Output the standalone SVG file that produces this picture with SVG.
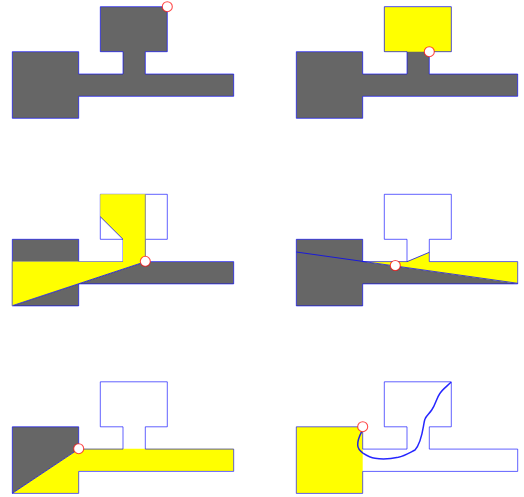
<svg xmlns="http://www.w3.org/2000/svg" width="524" height="497" viewBox="0 0 524 497">
<style>
.o{fill:none;stroke:#00f;stroke-width:1;stroke-opacity:.62}
.g{fill:#666;stroke:none}
.y{fill:#ff0;stroke:none}
.l{fill:none;stroke:#00f;stroke-width:1;stroke-opacity:.75}
.k{fill:none;stroke:#00f;stroke-width:1.5;stroke-opacity:.85}
.c{fill:#fff;stroke:#f00;stroke-width:1.1;stroke-opacity:.7}
</style>
<defs>
<path id="s" d="M12.3 51.7H78.7V74H123V51.7H100.3V6.7H167.3V51.7H145.3V74H233.7V96.3H78.7V118.3H12.3Z"/>
</defs>
<rect width="524" height="497" fill="#fff"/>
<g id="panel-1">
<use href="#s" class="g"/><use href="#s" class="o"/>
<circle class="c" cx="167.3" cy="6.7" r="5"/>
</g>
<g id="panel-2">
<use href="#s" class="g" x="284"/>
<path class="y" d="M384.3 7H451.3V51.7H384.3Z"/>
<use href="#s" class="o" x="284"/>
<circle class="c" cx="429.3" cy="51.7" r="5"/>
</g>
<g id="panel-3">
<path class="g" d="M12.3 239.3H78.7V261.7H12.3Z"/>
<path class="g" d="M12.3 305.7L145.3 261.7H233.7V283.9H78.7V305.9H12.3Z"/>
<use href="#s" class="o" y="187.6"/>
<path class="y" d="M12.3 261.7H123V239.3L100.3 216.7V194.3H145.3V261.7L12.3 305.7Z"/>
<path class="l" d="M12.3 305.7L145.3 261.7M123 239.3L100.3 216.7"/>
<path d="M12.3 261.7V305.7M145.3 194.3V261.7" fill="none" stroke="#888" stroke-width="1"/>
<circle class="c" cx="145.3" cy="261.3" r="5"/>
</g>
<g id="panel-4">
<path class="g" d="M296.3 239.3H362.7V261.5L517.7 283.7V283.9H362.7V305.9H296.3Z"/>
<path class="y" d="M362.7 261.4H407L429.3 252.3V261.7H517.7V283.6Z"/>
<use href="#s" class="o" x="284" y="187.6"/>
<path class="l" d="M296.3 252L517.7 283.3M407 261.7L429.3 252.3"/>
<circle class="c" cx="395.3" cy="265.5" r="5"/>
</g>
<g id="panel-5">
<path class="g" d="M12.3 426.7H78.7V449L12.3 493.3Z"/>
<path class="y" d="M12.3 493.3L78.7 448.7H233.7V471H78.7V493.3Z"/>
<use href="#s" class="o" y="375.1"/>
<path class="l" d="M12.3 493.3L78.7 449"/>
<circle class="c" cx="78.7" cy="448.7" r="5"/>
</g>
<g id="panel-6">
<path class="y" d="M296.3 426.7H362.7V493.3H296.3Z"/>
<use href="#s" class="o" x="284" y="375.1"/>
<path class="k" d="M451 382.3C446 387 442 390 440 393.3C436 399 436 404 431.7 410C429 414 426 416 425 419C423 424 423 441 415 450C409 453 404 456 398.3 457.3C390 459 380 459 375 458.3C370 457.5 366 455 363.3 453.3C360 451 357.7 448 357.7 445C357.5 440 360 435 361.7 431.7"/>
<circle class="c" cx="362.7" cy="426.7" r="5"/>
</g>
</svg>
